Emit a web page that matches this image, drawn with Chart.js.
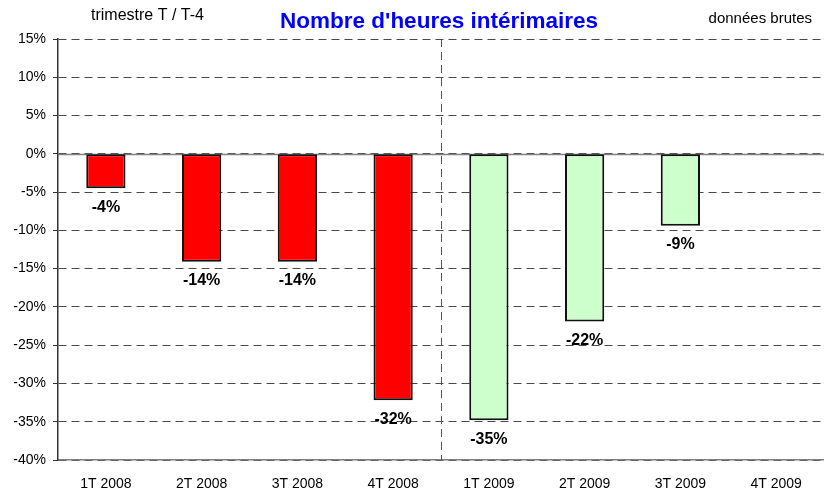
<!DOCTYPE html>
<html>
<head>
<meta charset="utf-8">
<script src="https://cdn.jsdelivr.net/npm/chart.js@4.4.0/dist/chart.umd.min.js"></script>
<style>
  html, body { margin: 0; padding: 0; background: #fff; }
  #wrap { width: 824px; height: 493px; }
</style>
</head>
<body>
<div id="wrap"><canvas id="myChart" width="824" height="493"></canvas></div>
<script>
var quarters = ['1T 2008', '2T 2008', '3T 2008', '4T 2008', '1T 2009', '2T 2009', '3T 2009', '4T 2009'];
var values = [-4.5, -14.1, -14.1, -32.2, -34.8, -21.9, -9.4, null];
var labels = ['-4%', '-14%', '-14%', '-32%', '-35%', '-22%', '-9%', ''];
var colors = ['#FF0000', '#FF0000', '#FF0000', '#FF0000', '#CCFFCC', '#CCFFCC', '#CCFFCC', '#CCFFCC'];

var FONT = '"Liberation Sans", Arial, sans-serif';

// header texts, zero line, separator line and bar labels
var extras = {
  id: 'extras',
  beforeDatasetsDraw: function(chart) {
    var ctx = chart.ctx, area = chart.chartArea;
    var x = chart.scales.x, y = chart.scales.y;
    ctx.save();
    // solid 0% line
    var y0 = Math.round(y.getPixelForValue(0)) + 0.5;
    ctx.strokeStyle = '#808080';
    ctx.lineWidth = 1.5;
    ctx.beginPath();
    ctx.moveTo(area.left, y0);
    ctx.lineTo(area.right, y0);
    ctx.stroke();
    // dashed separator between 2008 and 2009
    var xs = Math.round((x.getPixelForValue(3) + x.getPixelForValue(4)) / 2) + 0.5;
    ctx.strokeStyle = '#555';
    ctx.lineWidth = 1;
    ctx.setLineDash([8, 5]);
    ctx.beginPath();
    ctx.moveTo(xs, area.top);
    ctx.lineTo(xs, area.bottom);
    ctx.stroke();
    ctx.restore();
  },
  afterDraw: function(chart) {
    var ctx = chart.ctx, area = chart.chartArea;
    ctx.save();
    ctx.textBaseline = 'middle';
    ctx.fillStyle = '#0000FF';
    ctx.font = 'bold 22.5px ' + FONT;
    ctx.textAlign = 'center';
    ctx.fillText("Nombre d'heures intérimaires", (area.left + area.right) / 2 - 2, 22);
    ctx.fillStyle = '#000';
    ctx.font = '16px ' + FONT;
    ctx.textAlign = 'left';
    ctx.fillText('trimestre T / T-4', 91, 16);
    ctx.font = '15px ' + FONT;
    ctx.textAlign = 'right';
    ctx.fillText('données brutes', 812, 19);
    // value labels below each bar
    ctx.font = 'bold 16px ' + FONT;
    ctx.textAlign = 'center';
    var meta = chart.getDatasetMeta(0);
    meta.data.forEach(function(bar, i) {
      if (values[i] === null) return;
      ctx.fillText(labels[i], bar.x, bar.y + 19);
    });
    ctx.restore();
  }
};

var ctx = document.getElementById('myChart').getContext('2d');
var myBarChart = new Chart(ctx, {
  type: 'bar',
  data: {
    labels: quarters,
    datasets: [{
      data: values,
      backgroundColor: colors,
      borderColor: '#111',
      borderWidth: 2,
      borderSkipped: false,
      barPercentage: 0.41,
      categoryPercentage: 1
    }]
  },
  options: {
    responsive: false,
    animation: false,
    layout: { padding: { top: 39, right: 0, bottom: 0, left: 0 } },
    plugins: {
      legend: { display: false },
      tooltip: { enabled: false }
    },
    scales: {
      x: {
        grid: { display: false },
        border: { display: true, color: '#808080', width: 1.5 },
        ticks: { color: '#000', font: { family: FONT, size: 14 }, padding: 8, maxRotation: 0 },
        afterFit: function(scale) { scale.height = 33; }
      },
      y: {
        min: -40,
        max: 15,
        ticks: {
          stepSize: 5,
          color: '#000',
          font: { family: FONT, size: 14 },
          padding: 7,
          callback: function(v) { return v + '%'; }
        },
        grid: {
          color: '#4a4a4a',
          lineWidth: 1,
          tickLength: 5,
          tickColor: '#333',
          tickBorderDash: []
        },
        border: { display: true, color: '#333', width: 1.5, dash: [8, 5] },
        afterFit: function(scale) { scale.width = 58; }
      }
    }
  },
  plugins: [extras]
});
</script>
</body>
</html>
